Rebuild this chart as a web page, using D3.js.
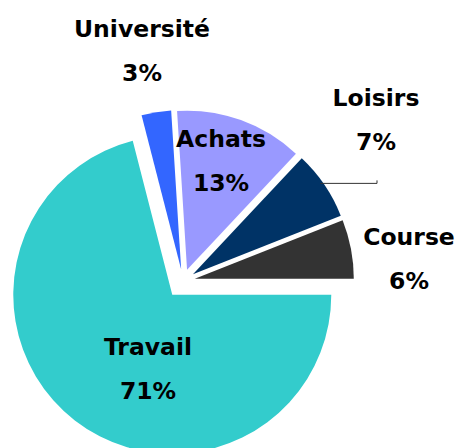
<!DOCTYPE html>
<html>
<head>
<meta charset="utf-8">
<script src="https://cdn.jsdelivr.net/npm/d3@7/dist/d3.min.js"></script>
<style>
  html, body { margin: 0; padding: 0; background: #ffffff; }
  svg { display: block; }
  text { font-family: "DejaVu Sans", Verdana, sans-serif; font-weight: bold; fill: #000; }
</style>
</head>
<body>
<div id="chart"></div>
<script>
// ---- data ----
const categories = ["Travail", "Université", "Achats", "Loisirs", "Course"];
const values = [71, 3, 13, 7, 6];           // percent
const colors = ["#33CCCC", "#3366FF", "#9999FF", "#003366", "#333333"];

// ---- layout / style ----
const W = 458, H = 448;
const center = { x: 183, y: 281 };
const radius = 159;
const explodeDist = name => (name === "Travail" ? 17.5 : 12);
const fontSize = 23.5;
const lineGap = 44;
// label anchor (name baseline, centred); percentage line sits lineGap below
const labelAt = {
  "Université": [142, 37],
  "Loisirs":    [376, 106],
  "Achats":     [221, 147],
  "Course":     [409, 245],
  "Travail":    [148, 355]
};

const svg = d3.select("#chart").append("svg")
  .attr("width", W).attr("height", H)
  .attr("viewBox", `0 0 ${W} ${H}`);

const color = d3.scaleOrdinal().domain(categories).range(colors);

const pie = d3.pie()
  .sort(null)
  .value(d => d.value)
  .startAngle(Math.PI / 2)
  .endAngle(Math.PI / 2 + 2 * Math.PI);

const data = categories.map((c, i) => ({ name: c, value: values[i] }));
const arcs = pie(data);

const arc = d3.arc().innerRadius(0).outerRadius(radius);

function offset(d) {
  const mid = (d.startAngle + d.endAngle) / 2;
  const e = explodeDist(d.data.name);
  return [Math.sin(mid) * e, -Math.cos(mid) * e];
}

const g = svg.append("g").attr("transform", `translate(${center.x},${center.y})`);

g.selectAll("path.slice")
  .data(arcs)
  .join("path")
  .attr("class", "slice")
  .attr("transform", d => { const o = offset(d); return `translate(${o[0]},${o[1]})`; })
  .attr("d", arc)
  .attr("fill", d => color(d.data.name));

// leader line for Loisirs (label placed outside)
const loisirs = arcs.find(d => d.data.name === "Loisirs");
{
  const o = offset(loisirs);
  const mid = (loisirs.startAngle + loisirs.endAngle) / 2;
  const sx = center.x + o[0] + Math.sin(mid) * radius;
  const sy = center.y + o[1] - Math.cos(mid) * radius;
  const ex = labelAt["Loisirs"][0] + 1;
  svg.append("path")
    .attr("d", d3.line()([[sx - 4, sy - 1.5], [ex, sy - 1.5], [ex, sy - 4.5]]))
    .attr("fill", "none")
    .attr("stroke", "#333333")
    .attr("stroke-width", 1);
}

// labels
const labels = svg.append("g");
arcs.forEach(d => {
  const [x, y] = labelAt[d.data.name];
  labels.append("text")
    .attr("x", x).attr("y", y)
    .attr("text-anchor", "middle")
    .style("font-size", fontSize + "px")
    .text(d.data.name);
  labels.append("text")
    .attr("x", x).attr("y", y + lineGap)
    .attr("text-anchor", "middle")
    .style("font-size", fontSize + "px")
    .text(d.data.value + "%");
});
</script>
</body>
</html>
